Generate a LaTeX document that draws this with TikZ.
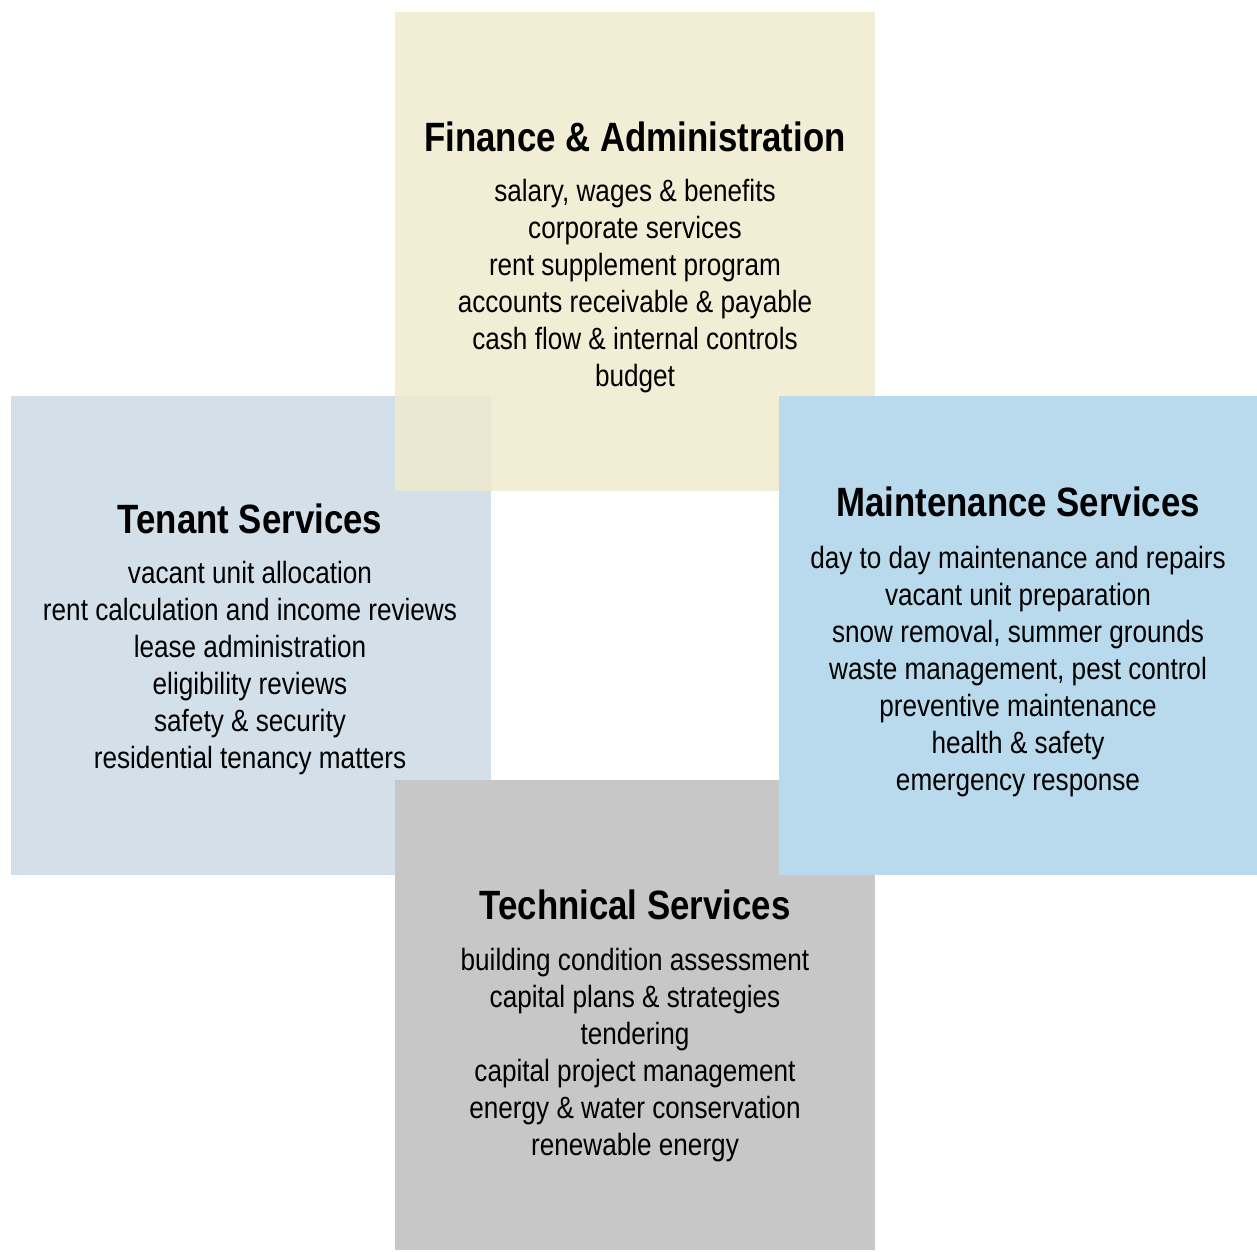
\documentclass[tikz,border=0pt]{standalone}
\usepackage{fontspec}
\setmainfont[FakeStretch=0.85]{Liberation Sans}
\usetikzlibrary{positioning}

% panel colours
\definecolor{fincol}{HTML}{F2EDD5}
\definecolor{tencol}{HTML}{D3E0EA}
\definecolor{mixcol}{HTML}{EAE7D3}
\definecolor{maicol}{HTML}{B9DAEC}
\definecolor{teccol}{HTML}{C7C7C7}

\tikzset{
  panel/.style={draw=none, minimum width=9.6cm, minimum height=9.58cm, inner sep=0pt},
  head/.style={font=\fontsize{23.3}{27}\selectfont\bfseries, inner sep=0pt},
  items/.style={font=\fontsize{17.5}{21}\selectfont, align=center, inner sep=0pt}
}

\begin{document}
\begin{tikzpicture}[x=0.02cm, y=-0.02cm]
    \useasboundingbox (0,0) rectangle (1257,1251);

    % four service panels
    \node[panel, fill=fincol] (fin) at (635,251.5) {};
    \node[panel, fill=tencol] (ten) at (251,635.5) {};
    % where tenant and finance overlap
    \fill[mixcol] (395,396) rectangle (491,491);
    \node[panel, fill=teccol, minimum height=9.4cm] (tec) at (635,1015) {};
    \node[panel, fill=maicol, minimum width=9.56cm] (mai) at (1018,635.5) {};

    % Finance & Administration
    \node[head] (finhead) at (635,137) {Finance \& Administration};
    \node[items, anchor=north] (finlist) at (635,179) {salary, wages \& benefits\\
        corporate services\\ rent supplement program\\
        accounts receivable \& payable\\ cash flow \& internal controls\\ budget};

    % Tenant Services
    \node[head] (tenhead) at (250,519) {Tenant Services};
    \node[items, anchor=north] (tenlist) at (250,561) {vacant unit allocation\\
        rent calculation and income reviews\\ lease administration\\
        eligibility reviews\\ safety \& security\\ residential tenancy matters};

    % Maintenance Services
    \node[head] (maihead) at (1018,502) {Maintenance Services};
    \node[items, anchor=north] (mailist) at (1018,546) {day to day maintenance and repairs\\
        vacant unit preparation\\ snow removal, summer grounds\\
        waste management, pest control\\ preventive maintenance\\
        health \& safety\\ emergency response};

    % Technical Services
    \node[head] (techead) at (635,905) {Technical Services};
    \node[items, anchor=north] (teclist) at (635,948) {building condition assessment\\
        capital plans \& strategies\\ tendering\\ capital project management\\
        energy \& water conservation\\ renewable energy};
\end{tikzpicture}
\end{document}
